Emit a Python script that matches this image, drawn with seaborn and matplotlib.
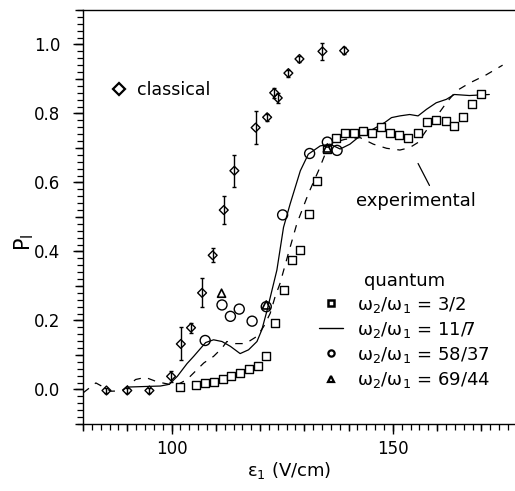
import numpy as np
import pandas as pd
import matplotlib
matplotlib.use("Agg")
import matplotlib.pyplot as plt
from matplotlib.lines import Line2D
from matplotlib.ticker import MultipleLocator, FixedLocator, NullFormatter
import seaborn as sns

# ---------------- data ----------------
# classical (diamonds with error bars)
cl_x = [85.3, 90.0, 95.0, 99.9, 102.1, 104.4, 106.9, 109.3, 111.8, 114.2, 119.0, 121.6,
        123.2, 124.0, 126.4, 128.9, 134.1, 139.0]
cl_y = [-0.003, -0.003, -0.003, 0.038, 0.132, 0.179, 0.28, 0.389, 0.52, 0.634, 0.759, 0.789,
        0.86, 0.845, 0.917, 0.958, 0.98, 0.982]
cl_err = [0.006, 0.006, 0.006, 0.016, 0.048, 0.015, 0.042, 0.02, 0.04, 0.046, 0.047, 0.01,
          0.015, 0.015, 0.01, 0.01, 0.025, 0.01]

# quantum w2/w1 = 3/2 (squares)
sq_x = [101.8, 105.6, 107.5, 109.5, 111.6, 113.5, 115.5, 117.6, 119.5, 121.3,
        123.4, 125.5, 127.2, 129.1, 131.1, 132.8, 135.1, 137.2, 139.2, 141.2,
        143.3, 145.3, 147.3, 149.3, 151.4, 153.4, 155.7, 157.7, 159.8, 161.9,
        163.8, 165.9, 167.9, 170.0]
sq_y = [0.008, 0.012, 0.019, 0.022, 0.029, 0.038, 0.048, 0.058, 0.067, 0.098,
        0.194, 0.287, 0.374, 0.405, 0.508, 0.603, 0.696, 0.728, 0.744, 0.743,
        0.749, 0.744, 0.762, 0.743, 0.738, 0.728, 0.743, 0.775, 0.780, 0.778,
        0.764, 0.790, 0.826, 0.856]

# quantum w2/w1 = 11/7 (solid line)
sl_x = [90.0, 97.5, 99.5, 101.3, 103.5, 105.0, 107.7, 109.5, 111.4, 113.3, 115.5, 117.4,
        119.3, 120.4, 121.6, 122.7, 123.8, 125.3, 126.8, 129.1, 130.9, 133.6, 135.8,
        138.1, 140.3, 142.6, 145.6, 148.2, 149.7, 151.6, 153.8, 155.7, 157.6, 159.8,
        162.1, 163.9, 167.3, 171.8]
sl_y = [0.007, 0.01, 0.015, 0.038, 0.075, 0.096, 0.136, 0.144, 0.139, 0.125, 0.104, 0.115,
        0.139, 0.173, 0.23, 0.288, 0.346, 0.47, 0.538, 0.634, 0.682, 0.706, 0.711,
        0.697, 0.711, 0.735, 0.755, 0.774, 0.788, 0.793, 0.797, 0.793, 0.812, 0.831,
        0.841, 0.855, 0.852, 0.855]

# quantum w2/w1 = 58/37 (circles)
ci_x = [107.6, 111.4, 113.3, 115.3, 118.2, 121.4, 125.1, 131.2, 135.2, 137.4]
ci_y = [0.142, 0.245, 0.212, 0.233, 0.198, 0.24, 0.506, 0.684, 0.717, 0.693]

# quantum w2/w1 = 69/44 (triangles)
tr_x = [111.3, 121.4, 135.2]
tr_y = [0.279, 0.245, 0.70]

# experimental (dashed line)
ex_x = [80.0, 82.9, 86.3, 88.7, 91.9, 94.1, 96.8, 99.5, 101.5, 103.5, 107.3, 109.5,
        111.4, 112.5, 114.4, 116.7, 119.3, 120.8, 122.3, 123.4, 124.5, 126.3, 128.3,
        130.9, 133.2, 134.7, 136.6, 139.2, 142.6, 145.6, 148.6, 151.6, 153.8, 155.7,
        157.2, 160.2, 162.1, 164.3, 167.3, 171.1, 174.8]
ex_y = [-0.01, 0.019, -0.005, -0.004, 0.029, 0.035, 0.022, 0.015, 0.015, 0.029, 0.077, 0.096,
        0.12, 0.139, 0.133, 0.133, 0.154, 0.182, 0.221, 0.269, 0.307, 0.39, 0.48,
        0.567, 0.634, 0.682, 0.716, 0.725, 0.73, 0.711, 0.699, 0.694, 0.701, 0.716,
        0.744, 0.797, 0.831, 0.865, 0.888, 0.912, 0.94]

x_ticklabels = [100, 150]
y_ticklabels = [0.0, 0.2, 0.4, 0.6, 0.8, 1.0]
legend_labels = ["ω$_2$/ω$_1$ = 3/2", "ω$_2$/ω$_1$ = 11/7",
                 "ω$_2$/ω$_1$ = 58/37", "ω$_2$/ω$_1$ = 69/44"]

# ---------------- style ----------------
sns.set_theme(style="ticks")
plt.rcParams["font.family"] = ["DejaVu Sans"]
plt.rcParams["text.color"] = "black"
plt.rcParams["axes.labelcolor"] = "black"
plt.rcParams["xtick.color"] = "black"
plt.rcParams["ytick.color"] = "black"
plt.rcParams["axes.linewidth"] = 1.0
plt.rcParams["xtick.direction"] = "out"
plt.rcParams["ytick.direction"] = "out"

fig = plt.figure(figsize=(5.15, 4.91), dpi=100)
ax = fig.add_axes([0.1612, 0.1365, 0.8388, 0.8432])

K = "black"

# experimental dashed
sns.lineplot(x=ex_x, y=ex_y, ax=ax, color=K, lw=0.9, sort=False, estimator=None,
             linestyle=(0, (6, 6)))
# 11/7 solid
sns.lineplot(x=sl_x, y=sl_y, ax=ax, color=K, lw=0.9, sort=False, estimator=None)

# classical error bars + diamonds
ax.errorbar(cl_x, cl_y, yerr=cl_err, fmt="none", ecolor=K, elinewidth=1.0, capsize=1.2,
            capthick=1.0, zorder=3)
sns.scatterplot(x=cl_x, y=cl_y, ax=ax, marker="D", s=4.5 ** 2, facecolor="none",
                edgecolor=K, linewidth=1.0, zorder=4)

# squares
sns.scatterplot(x=sq_x, y=sq_y, ax=ax, marker="s", s=5.4 ** 2, facecolor="white",
                edgecolor=K, linewidth=1.0, zorder=4)
# circles
sns.scatterplot(x=ci_x, y=ci_y, ax=ax, marker="o", s=7.2 ** 2, facecolor="none",
                edgecolor=K, linewidth=1.0, zorder=4)
# triangles
sns.scatterplot(x=tr_x, y=tr_y, ax=ax, marker="^", s=5.8 ** 2, facecolor="none",
                edgecolor=K, linewidth=1.2, zorder=5)

# axes limits / spines
ax.set_xlim(80, 177.6)
ax.set_ylim(-0.1, 1.1)
ax.spines["right"].set_visible(False)
ax.spines["top"].set_visible(True)
for s in ["left", "bottom", "top"]:
    ax.spines[s].set_color(K)
    ax.spines[s].set_linewidth(1.0)

# ticks: labeled majors, medium at 10s / 0.1, minor at 2 / 0.02
ax.xaxis.set_major_locator(FixedLocator(x_ticklabels))
ax.xaxis.set_minor_locator(MultipleLocator(2))
ax.yaxis.set_major_locator(FixedLocator(y_ticklabels))
ax.yaxis.set_minor_locator(MultipleLocator(0.02))
ax.set_xticklabels([str(v) for v in x_ticklabels])
ax.set_yticklabels([f"{v:.1f}" for v in y_ticklabels])
ax.tick_params(axis="both", which="major", length=7.5, width=1.0, color=K,
               labelsize=12, labelcolor=K)
ax.tick_params(axis="y", which="major", pad=9)
ax.tick_params(axis="x", which="major", pad=4)
ax.tick_params(axis="both", which="minor", length=4, width=0.9, color=K)
ax.tick_params(top=False, right=False, which="both")

secx = ax.secondary_xaxis("bottom")
secx.xaxis.set_major_locator(MultipleLocator(10))
secx.xaxis.set_major_formatter(NullFormatter())
secx.tick_params(length=5.2, width=1.0, color=K)
secx.spines["bottom"].set_visible(False)
secy = ax.secondary_yaxis("left")
secy.yaxis.set_major_locator(MultipleLocator(0.1))
secy.yaxis.set_major_formatter(NullFormatter())
secy.tick_params(length=5.5, width=1.0, color=K)
secy.spines["left"].set_visible(False)

ax.set_xlabel("ε$_1$ (V/cm)", fontsize=13, color=K)
ax.xaxis.set_label_coords(0.477, -0.088)
ax.set_ylabel(r"P$_{\rm I}$", fontsize=15, color=K)
ax.yaxis.set_label_coords(-0.108, 0.44)

# legends
h_cl = Line2D([], [], marker="D", ls="none", ms=6.5, mfc="none", mec=K, mew=1.6)
leg1 = ax.legend([h_cl], ["classical"], loc="center left", bbox_to_anchor=(0.064, 0.807),
                 frameon=False, fontsize=12.5, handlelength=1.0, handletextpad=0.5,
                 borderpad=0, borderaxespad=0)
ax.add_artist(leg1)

hq = [Line2D([], [], marker="s", ls="none", ms=4.5, mfc="white", mec=K, mew=1.8),
      Line2D([], [], color=K, lw=1.0),
      Line2D([], [], marker="o", ls="none", ms=4.5, mfc="none", mec=K, mew=1.6),
      Line2D([], [], marker="^", ls="none", ms=4.5, mfc="none", mec=K, mew=1.6)]
leg2 = ax.legend(hq, legend_labels, title="quantum", loc="upper left",
                 bbox_to_anchor=(0.546, 0.368), frameon=False, fontsize=13,
                 title_fontsize=13, handlelength=1.35, handletextpad=0.75,
                 labelspacing=0.28, borderpad=0, borderaxespad=0)
for t in leg2.get_texts():
    t.set_color(K)
leg2.get_title().set_color(K)

# experimental annotation
ax.annotate("experimental", xy=(155.7, 0.655), xytext=(155.3, 0.545),
            ha="center", va="center", fontsize=13, color=K,
            arrowprops=dict(arrowstyle="-", color=K, lw=0.9, shrinkA=3, shrinkB=0,
                            relpos=(0.64, 1.0)))

fig.savefig("out.png", dpi=100, facecolor="white")
